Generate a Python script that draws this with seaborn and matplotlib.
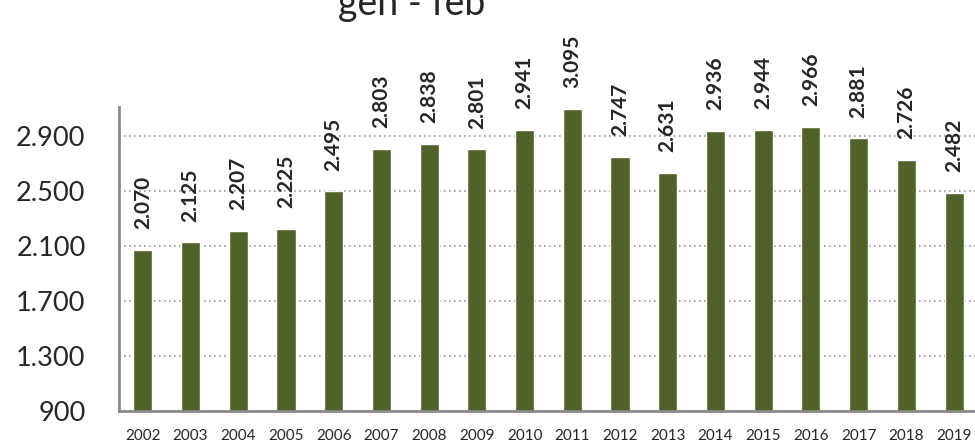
import pandas as pd
import seaborn as sns
import matplotlib.pyplot as plt

years = [str(y) for y in range(2002, 2020)]
values = [2070, 2125, 2207, 2225, 2495, 2803, 2838, 2801, 2941, 3095,
          2747, 2631, 2936, 2944, 2966, 2881, 2726, 2482]
y_ticks = [900, 1300, 1700, 2100, 2500, 2900]
title = "gen - feb"

df = pd.DataFrame({"anno": years, "valore": values})

sns.set_style("white")
plt.rcParams['font.family'] = ['Lato', 'DejaVu Sans']

fig = plt.figure(figsize=(9.75, 4.46), dpi=100)
ax = fig.add_axes([0.122, 0.0785, 0.881, 0.682])

sns.barplot(data=df, x="anno", y="valore", color="#50622a", width=0.4,
            saturation=1, ax=ax)

def fmt(v):
    return f"{v:,}".replace(",", ".")

ax.bar_label(ax.containers[0], labels=[fmt(v) for v in values],
             rotation=90, padding=15, fontsize=15, fontweight='bold')

ax.set_ylim(900, 3110)
ax.set_xlim(-0.5, 17.5)
ax.set_yticks(y_ticks)
ax.set_yticklabels([fmt(v) for v in y_ticks], fontsize=19.5)
ax.tick_params(axis='x', labelsize=11, pad=13, length=0)
ax.tick_params(axis='y', length=0, pad=24)
ax.yaxis.grid(True, linestyle=(0, (1, 2)), color='#999999', linewidth=1.2)
ax.set_axisbelow(True)
ax.set_xlabel("")
ax.set_ylabel("")

for side in ['top', 'right']:
    ax.spines[side].set_visible(False)
for side in ['left', 'bottom']:
    ax.spines[side].set_color('#8a8a8a')
    ax.spines[side].set_linewidth(2)

fig.text(0.422, 0.966, title, ha='center', va='baseline', fontsize=27)

plt.savefig('out.png', dpi=100)
